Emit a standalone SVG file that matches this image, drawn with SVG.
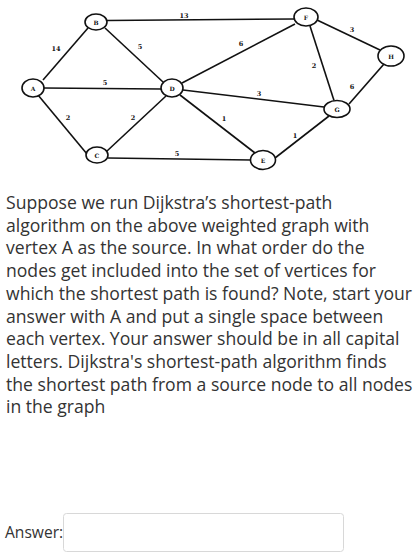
<svg xmlns="http://www.w3.org/2000/svg" width="416" height="553" viewBox="0 0 416 553">
<style>
.e{stroke:#111;stroke-width:1.6;fill:none}
.n ellipse{fill:#fff;stroke:#111;stroke-width:1.6}
.n text{font-family:"DejaVu Serif",serif;font-size:6px;font-weight:bold;text-anchor:middle;fill:#111}
.w{font-family:"DejaVu Serif",serif;font-size:6.5px;font-weight:bold;text-anchor:middle;fill:#111}
.q{font-family:"Open Sans",sans-serif;font-size:17.6px;fill:#333}
.a{font-family:"Open Sans",sans-serif;font-size:15.6px;fill:#333}
</style>
<rect width="416" height="553" fill="#fff"/>
<g id="edges">
<line class="e" x1="43" y1="80" x2="88" y2="28"/>
<line class="e" x1="44" y1="88" x2="161" y2="89"/>
<line class="e" x1="38" y1="95" x2="87" y2="154"/>
<line class="e" x1="105" y1="28" x2="163" y2="82"/>
<line class="e" x1="107" y1="20.5" x2="294" y2="19"/>
<line class="e" x1="108" y1="158" x2="251" y2="160"/>
<line class="e" x1="107" y1="151" x2="166" y2="96"/>
<line class="e" x1="182" y1="83" x2="295" y2="24"/>
<line class="e" x1="183" y1="90" x2="324" y2="107"/>
<line class="e" x1="180" y1="95" x2="255" y2="153"/>
<line class="e" x1="317" y1="20" x2="380" y2="50"/>
<line class="e" x1="310" y1="26" x2="334" y2="100.5"/>
<line class="e" x1="349" y1="104" x2="384" y2="64"/>
<line class="e" x1="275" y1="158" x2="329" y2="116"/>
</g>
<g id="weights">
<text class="w" x="56" y="50.5">14</text>
<text class="w" x="140" y="48.5">5</text>
<text class="w" x="105" y="85">5</text>
<text class="w" x="68" y="119.5">2</text>
<text class="w" x="133" y="119.5">2</text>
<text class="w" x="177" y="155.5">5</text>
<text class="w" x="184" y="17.5">13</text>
<text class="w" x="241" y="45.5">6</text>
<text class="w" x="352" y="31.5">3</text>
<text class="w" x="314" y="67.5">2</text>
<text class="w" x="352" y="88.5">6</text>
<text class="w" x="259" y="96">3</text>
<text class="w" x="224" y="120.5">1</text>
<text class="w" x="295" y="137.5">1</text>
</g>
<g id="A" class="n"><ellipse cx="33" cy="88" rx="11" ry="9"/><text x="33" y="90.5">A</text></g>
<g id="B" class="n"><ellipse cx="96" cy="22" rx="11" ry="8"/><text x="96" y="24.5">B</text></g>
<g id="C" class="n"><ellipse cx="97" cy="155" rx="11" ry="8"/><text x="97" y="157.5">C</text></g>
<g id="D" class="n"><ellipse cx="172" cy="88" rx="11" ry="9"/><text x="172" y="90.5">D</text></g>
<g id="F" class="n"><ellipse cx="306" cy="17" rx="12" ry="9"/><text x="306" y="19.5">F</text></g>
<g id="H" class="n"><ellipse cx="391" cy="56" rx="13" ry="10"/><text x="391" y="58.5">H</text></g>
<g id="G" class="n"><ellipse cx="337" cy="109" rx="13" ry="8.5"/><text x="337" y="111.5">G</text></g>
<g id="E" class="n"><ellipse cx="263" cy="160" rx="12.5" ry="9.5"/><text x="263" y="162.5">E</text></g>
<g id="question">
<text class="q" x="6" y="209">Suppose we run Dijkstra’s shortest-path</text>
<text class="q" x="6" y="232">algorithm on the above weighted graph with</text>
<text class="q" x="6" y="254">vertex A as the source. In what order do the</text>
<text class="q" x="6" y="277">nodes get included into the set of vertices for</text>
<text class="q" x="6" y="300">which the shortest path is found? Note, start your</text>
<text class="q" x="6" y="323">answer with A and put a single space between</text>
<text class="q" x="6" y="345">each vertex. Your answer should be in all capital</text>
<text class="q" x="6" y="368">letters. Dijkstra's shortest-path algorithm finds</text>
<text class="q" x="6" y="391">the shortest path from a source node to all nodes</text>
<text class="q" x="6" y="413">in the graph</text>
</g>
<g id="answer">
<text class="a" x="5" y="538">Answer:</text>
<rect x="63.5" y="513.5" width="280" height="38" rx="3" fill="#fff" stroke="#d8d8d8"/>
</g>
</svg>
